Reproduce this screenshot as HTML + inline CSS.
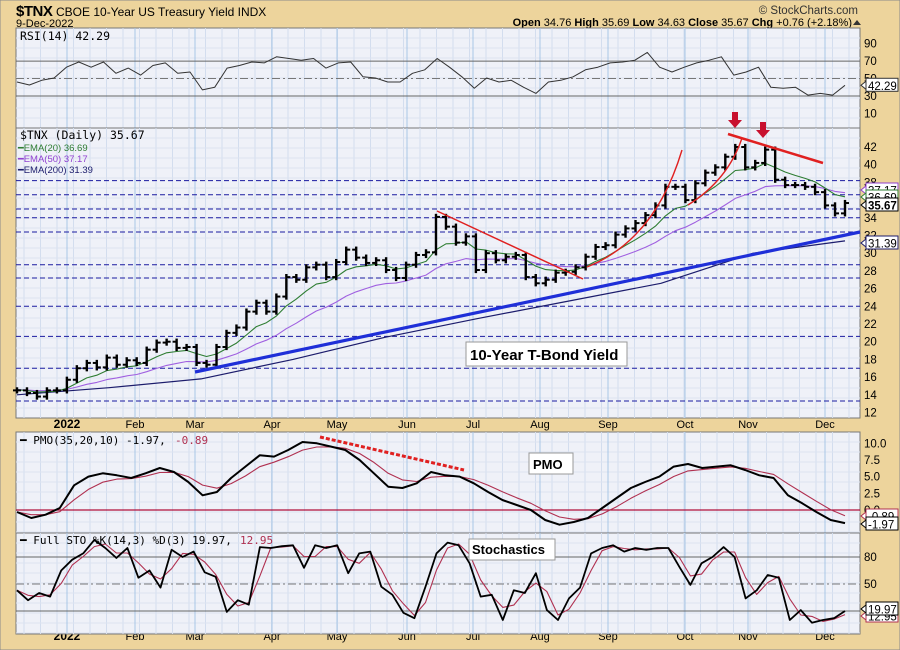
<!DOCTYPE html>
<html><head><meta charset="utf-8"><style>
body{margin:0;background:#EDD49C;}
svg{display:block;font-family:"Liberation Sans",sans-serif;}
</style></head><body>
<svg id="c" width="900" height="650" viewBox="0 0 900 650" xmlns="http://www.w3.org/2000/svg">
<rect x="0" y="0" width="900" height="650" fill="#EDD49C" stroke="#8a8a8a"/>
<text x="16" y="16" font-size="15" font-weight="bold" fill="#000" letter-spacing="-0.5">$TNX</text>
<text x="56" y="16" font-size="12" fill="#000">CBOE 10-Year US Treasury Yield INDX</text>
<text x="16" y="27" font-size="11" fill="#000">9-Dec-2022</text>
<text x="858" y="14" font-size="11.5" fill="#333" text-anchor="end">© StockCharts.com</text>
<text x="852" y="26" font-size="11" fill="#000" text-anchor="end"><tspan font-weight="bold">Open</tspan> 34.76 <tspan font-weight="bold">High</tspan> 35.69 <tspan font-weight="bold">Low</tspan> 34.63 <tspan font-weight="bold">Close</tspan> 35.67 <tspan font-weight="bold">Chg</tspan> +0.76 (+2.18%)</text>
<polygon points="853,25 861,25 857,20" fill="#333"/>
<g id="panels"></g>
</svg>
<script>
// ---- data ----
const months = ["2022","Feb","Mar","Apr","May","Jun","Jul","Aug","Sep","Oct","Nov","Dec"];
const monthPos = [67,135,195,272,337,407,473,540,608,685,748,825];
const closes = [14.5,14.2,13.8,14.5,14.5,15.7,17.0,17.6,17.1,18.2,17.4,17.9,17.6,19.1,19.9,20.0,19.3,19.4,17.6,17.4,19.4,21.0,21.6,23.4,24.4,23.4,25.1,27.3,27.0,28.4,28.7,27.3,29.0,30.4,29.5,28.9,29.2,28.1,27.2,28.7,29.8,30.1,34.1,33.0,31.2,31.9,28.1,30.0,29.2,29.6,29.8,27.3,26.6,27.0,27.8,27.9,28.4,29.6,30.7,30.9,32.1,32.8,33.4,34.3,35.4,37.5,37.5,36.0,37.9,39.1,39.7,40.9,42.0,39.7,40.2,41.7,38.3,37.7,37.7,37.5,36.9,35.4,34.5,35.67];
const ema200 = [14.0,14.8,15.8,18.0,20.5,22.6,24.6,26.6,30.0,31.39];
const rsi = [46,42.6,48,50.6,63,69,63,69,56,62,54,65,68,56,57.5,37,40,62,65,69,68,75,73,71,73,62,68,69,52,50.6,46,46,56,60,73,63,52,39,50.6,46,48,40,33,46,48,52,60,63,68,69,71,80,63,57.5,63,68,71,75,54,57.5,63,40,39,40,31,33,31,42.29];
const pmo = [-0.3,-1.2,-0.7,0.3,3.7,5.0,5.5,5.2,4.8,5.5,6.3,5.7,4.2,2.2,2.7,4.8,6.5,8.2,8.0,9.0,10.2,10.0,9.5,9.0,7.5,5.5,3.5,3.3,4.0,5.7,5.2,5.0,4.0,2.7,1.5,0.75,0,-1.5,-2.2,-1.8,-1.2,0.3,1.8,3.3,4.2,5.0,6.5,6.9,6.3,6.5,6.7,6.0,5.2,4.8,2.2,1.0,-0.3,-1.5,-1.97];
const stoK = [43,32,40,36,65,77,84,99,90,79,90,57,65,46,88,80,86,63,58,19,32,27,91,90,92,93,68,93,90,93,62,84,86,47,38,18,12,47,84,96,93,73,36,38,10,43,40,62,21,10,34,46,84,90,93,86,90,88,90,90,69,49,73,80,91,80,34,43,60,57,10,21,7,10,12,19.97];
const rsiTicks = [90,70,50,30,10];
const priceTicks = [42,40,38,36,34,32,30,28,26,24,22,20,18,16,14,12];
const priceDashLevels = [38.2,36.6,35,34,32.4,28.7,27.2,24,20.6,17,13.3];
const pmoTicks = ["10.0","7.5","5.0","2.5","0.0"];
const stoTicks = [80,50];

// ---- geometry ----
const L=16,R=860,X0=17,X1=845;
const NS="http://www.w3.org/2000/svg";
const root=document.getElementById('panels');
function el(tag,attrs,parent){const e=document.createElementNS(NS,tag);for(const k in attrs)e.setAttribute(k,attrs[k]);(parent||root).appendChild(e);return e;}
function xAt(i,n){return X0+(X1-X0)*i/(n-1);}
const yRsi=v=>96-(v-30)*0.872;
const yP=v=>147+(42-v)*8.85;
const yPmo=v=>510-v*6.67;
const ySto=v=>611-(v-20)*0.9;
const MONO='"DejaVu Sans Mono","Liberation Mono",monospace';

function panel(name,y0,y1){
  const g=el('g',{});
  
  
  const bg=el('rect',{x:L,y:y0,width:R-L,height:y1-y0,fill:'#EFF1F8',stroke:'#777','stroke-width':1},g);
  
  
  for(let x=L+8;x<R;x+=16.5){
    const v=el('line',{x1:x,x2:x,y1:y0,y2:y1,stroke:'#D3DDEE','stroke-width':1},g);
    
    
  }
  for(let y=y0+10;y<y1;y+=10){
    const h=el('line',{x1:L,x2:R,y1:y,y2:y,stroke:'#DCE3F0','stroke-width':1},g);
    
    
  }
  monthPos.forEach(mx=>{
    const m=el('line',{x1:mx,x2:mx,y1:y0,y2:y1,stroke:'#A9C6E6','stroke-width':1},g);
    
    
  });
  return g;
}
function hline(g,y,style,name){
  const a={x1:L,x2:R,y1:y,y2:y,stroke:style.c,'stroke-width':style.w||1};
  if(style.d)a['stroke-dasharray']=style.d;
  const l=el('line',a,g);
  
  
}
function poly(g,vals,fy,stroke,w,name){
  const pts=vals.map((v,i)=>xAt(i,vals.length).toFixed(1)+','+fy(v).toFixed(1)).join(' ');
  const p=el('polyline',{points:pts,fill:'none',stroke:stroke,'stroke-width':w,'stroke-linejoin':'round'},g);
  
  
}
function txt(g,x,y,s,attrs,name){
  const t=el('text',Object.assign({x:x,y:y,'font-size':11.5,fill:'#000'},attrs||{}),g);
  t.textContent=s;
  
  
  return t;
}
function tag(g,y,s,bold,border,name){
  const r=el('rect',{x:866,y:y-7,width:32,height:13,fill:'#fff',stroke:border,'stroke-width':1},g);
  
  
  const p=el('polygon',{points:`866,${y-4} 861,${y} 866,${y+4}`,fill:'#fff',stroke:border},g);
  
  
  txt(g,868,y+4.5,s,{'font-size':11.5,'font-weight':bold?'bold':'normal'},name);
}
function ema(arr,a,seed){let e=seed;return arr.map(v=>(e=e+a*(v-e)));}

// ---- RSI panel ----
const gR=panel('rsi-panel',28,128);
hline(gR,yRsi(70),{c:'#666'},'rsi-70-line');
hline(gR,yRsi(30),{c:'#666'},'rsi-30-line');
hline(gR,yRsi(50),{c:'#777',d:'8,3,2,3'},'rsi-50-line');
poly(gR,rsi,yRsi,'#333',1,'rsi-line');
rsiTicks.forEach(t=>txt(gR,864,yRsi(t)+4,String(t),{},'rsi-tick-label'));
txt(gR,20,40,'RSI(14) 42.29',{'font-size':11.5,'font-family':MONO},'rsi-legend');
tag(gR,yRsi(42.29),'42.29',false,'#333','rsi-value-tag');

// ---- Price panel ----
const gP=panel('price-panel',128,418);
priceDashLevels.forEach(v=>hline(gP,yP(v),{c:'#1a1aa0',d:'5,3'},'support-dashed-line'));
poly(gP,ema200,yP,'#1c1c6c',1.2,'ema200-line');
poly(gP,ema(closes,0.113,14.6),yP,'#A060E0',1.1,'ema50-line');
poly(gP,ema(closes,0.259,14.6),yP,'#2E7D32',1.1,'ema20-line');
closes.forEach((c,i)=>{
  const x=xAt(i,closes.length);
  const o=i?closes[i-1]:c;
  const hi=Math.max(o,c)+0.35, lo=Math.min(o,c)-0.35;
  const b=el('line',{x1:x,x2:x,y1:yP(hi),y2:yP(lo),stroke:'#000','stroke-width':2.4},gP);
  
  
  const t=el('line',{x1:x,x2:x+4,y1:yP(c),y2:yP(c),stroke:'#000','stroke-width':2},gP);
  
  
  const op=el('line',{x1:x-4,x2:x,y1:yP(o),y2:yP(o),stroke:'#000','stroke-width':2},gP);
  
  
});
const ann=[['blue-trendline',195,372,860,232,'#1f2fd8',3.2],['red-downtrend-jun',437,211,583,279,'#e02020',1.5],['red-top-trendline',728,134,823,163,'#e02020',2.5]];
ann.forEach(a=>{const l=el('line',{x1:a[1],y1:a[2],x2:a[3],y2:a[4],stroke:a[5],'stroke-width':a[6]},gP);});
const c1=el('path',{d:'M587,267 Q655,240 682,150',fill:'none',stroke:'#e02020','stroke-width':1.4},gP);


const c2=el('path',{d:'M688,205 Q728,180 742,138',fill:'none',stroke:'#e02020','stroke-width':1.4},gP);


[[735,112],[763,122]].forEach(p=>{
  const a=el('polygon',{points:`${p[0]-3},${p[1]} ${p[0]+3},${p[1]} ${p[0]+3},${p[1]+8} ${p[0]+7},${p[1]+8} ${p[0]},${p[1]+16} ${p[0]-7},${p[1]+8} ${p[0]-3},${p[1]+8}`,fill:'#c8102e'},root);
  
  
});
const lb=el('rect',{x:466,y:342,width:161,height:24,fill:'#fff',stroke:'#999'},gP);


txt(gP,470,360,'10-Year T-Bond Yield',{'font-size':15,'font-weight':'bold'},'annotation-label');
priceTicks.forEach(t=>txt(gP,864,yP(t)+4,String(t),{},'price-tick-label'));
txt(gP,20,139,'$TNX (Daily) 35.67',{'font-size':11.5,'font-family':MONO},'price-legend');
txt(gP,18,151,'━EMA(20) 36.69',{'font-size':9.5,fill:'#2E7D32'},'ema20-legend');
txt(gP,18,162,'━EMA(50) 37.17',{'font-size':9.5,fill:'#9040D0'},'ema50-legend');
txt(gP,18,173,'━EMA(200) 31.39',{'font-size':9.5,fill:'#1c1c6c'},'ema200-legend');
tag(gP,190,'37.17',false,'#9040D0','ema50-value-tag');
tag(gP,197,'36.69',false,'#2E7D32','ema20-value-tag');
tag(gP,205,'35.67',true,'#000','close-value-tag');
tag(gP,243,'31.39',false,'#1c1c6c','ema200-value-tag');

[425,637].forEach((y,k)=>monthPos.forEach((mx,i)=>txt(root,mx,y+3,months[i],{'text-anchor':'middle','font-size':i===0?12:11,'font-weight':i===0?'bold':'normal'},k?'bottom-month-label':'top-month-label')));

// ---- PMO panel ----
const gM=panel('pmo-panel',432,533);
hline(gM,yPmo(0),{c:'#b0103a',w:1.2},'pmo-zero-line');
poly(gM,ema(pmo,0.45,pmo[0]),yPmo,'#b03050',1.1,'pmo-signal-line');
poly(gM,pmo,yPmo,'#000',2,'pmo-line');
const pd=el('line',{x1:320,y1:437,x2:464,y2:470,stroke:'#e02020','stroke-width':3,'stroke-dasharray':'4,2'},gM);


const pb=el('rect',{x:529,y:453,width:44,height:21,fill:'#fff',stroke:'#999'},gM);


txt(gM,533,469,'PMO',{'font-size':13,'font-weight':'bold'},'pmo-annotation');
pmoTicks.forEach(t=>txt(gM,864,yPmo(parseFloat(t))+4,t,{},'pmo-tick-label'));
txt(gM,20,444,'━ PMO(35,20,10) -1.97,',{'font-size':11,'font-family':MONO},'pmo-legend');
txt(gM,175,444,'-0.89',{'font-size':11,fill:'#b03050','font-family':MONO},'pmo-signal-legend');
tag(gM,516,'-0.89',false,'#b03050','pmo-signal-tag');
tag(gM,524,'-1.97',false,'#000','pmo-value-tag');

// ---- Stochastics panel ----
const gS=panel('sto-panel',533,634);
hline(gS,ySto(80),{c:'#666'},'sto-80-line');
hline(gS,ySto(20),{c:'#666'},'sto-20-line');
hline(gS,ySto(50),{c:'#777',d:'8,3,2,3'},'sto-50-line');
const stoD=stoK.map((v,i)=>i?(v+stoK[i-1])/2:v);
poly(gS,stoD,ySto,'#b03050',1.1,'sto-d-line');
poly(gS,stoK,ySto,'#000',1.8,'sto-k-line');
const sb=el('rect',{x:469,y:539,width:86,height:21,fill:'#fff',stroke:'#999'},gS);


txt(gS,472,554,'Stochastics',{'font-size':13,'font-weight':'bold'},'sto-annotation');
stoTicks.forEach(t=>txt(gS,864,ySto(t)+4,String(t),{},'sto-tick-label'));
txt(gS,20,544,'━ Full STO %K(14,3) %D(3) 19.97,',{'font-size':11,'font-family':MONO},'sto-legend');
txt(gS,240,544,'12.95',{'font-size':11,fill:'#b03050','font-family':MONO},'sto-d-legend');
tag(gS,616,'12.95',false,'#b03050','sto-d-tag');
tag(gS,609,'19.97',false,'#000','sto-k-tag');
</script>
</body></html>
